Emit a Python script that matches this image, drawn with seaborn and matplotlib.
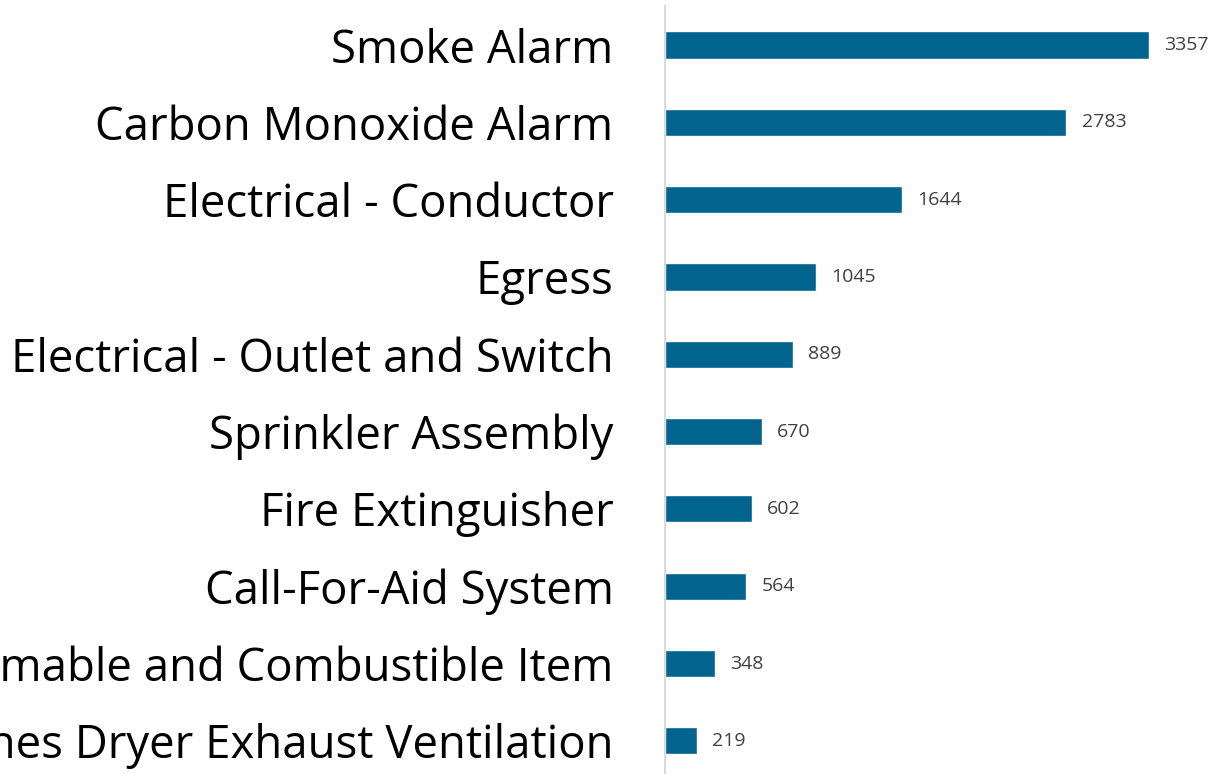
import matplotlib
matplotlib.use("Agg")
import matplotlib.pyplot as plt
import seaborn as sns
import pandas as pd

# inspection categories and counts
categories = [
    "Smoke Alarm",
    "Carbon Monoxide Alarm",
    "Electrical - Conductor",
    "Egress",
    "Electrical - Outlet and Switch",
    "Sprinkler Assembly",
    "Fire Extinguisher",
    "Call-For-Aid System",
    "Flammable and Combustible Item",
    "Clothes Dryer Exhaust Ventilation",
]
counts = [3357, 2783, 1644, 1045, 889, 670, 602, 564, 348, 219]

df = pd.DataFrame({"category": categories, "count": counts})

sns.set_style("white")
plt.rcParams["font.family"] = ["Open Sans", "DejaVu Sans"]

fig = plt.figure(figsize=(12.17, 7.74), dpi=100)
# axes placed so the long labels run off the left edge, like the original
ax = fig.add_axes([665 / 1217, -0.0072, 552 / 1217, 0.999])

sns.barplot(data=df, x="count", y="category", orient="h", color="#00648F",
            width=0.35, saturation=1, ax=ax)

ax.bar_label(ax.containers[0], labels=[str(c) for c in counts], padding=11,
             fontsize=14, color="#404040")

ax.set_xlim(0, 3828)
ax.set_xlabel("")
ax.set_ylabel("")
ax.set_xticks([])
ax.tick_params(axis="y", length=0, pad=37, labelsize=32.8, labelcolor="black")

for side in ["top", "right", "bottom"]:
    ax.spines[side].set_visible(False)
ax.spines["left"].set_color("#D9D9D9")
ax.spines["left"].set_linewidth(1.5)

fig.savefig("out.png", dpi=100)
